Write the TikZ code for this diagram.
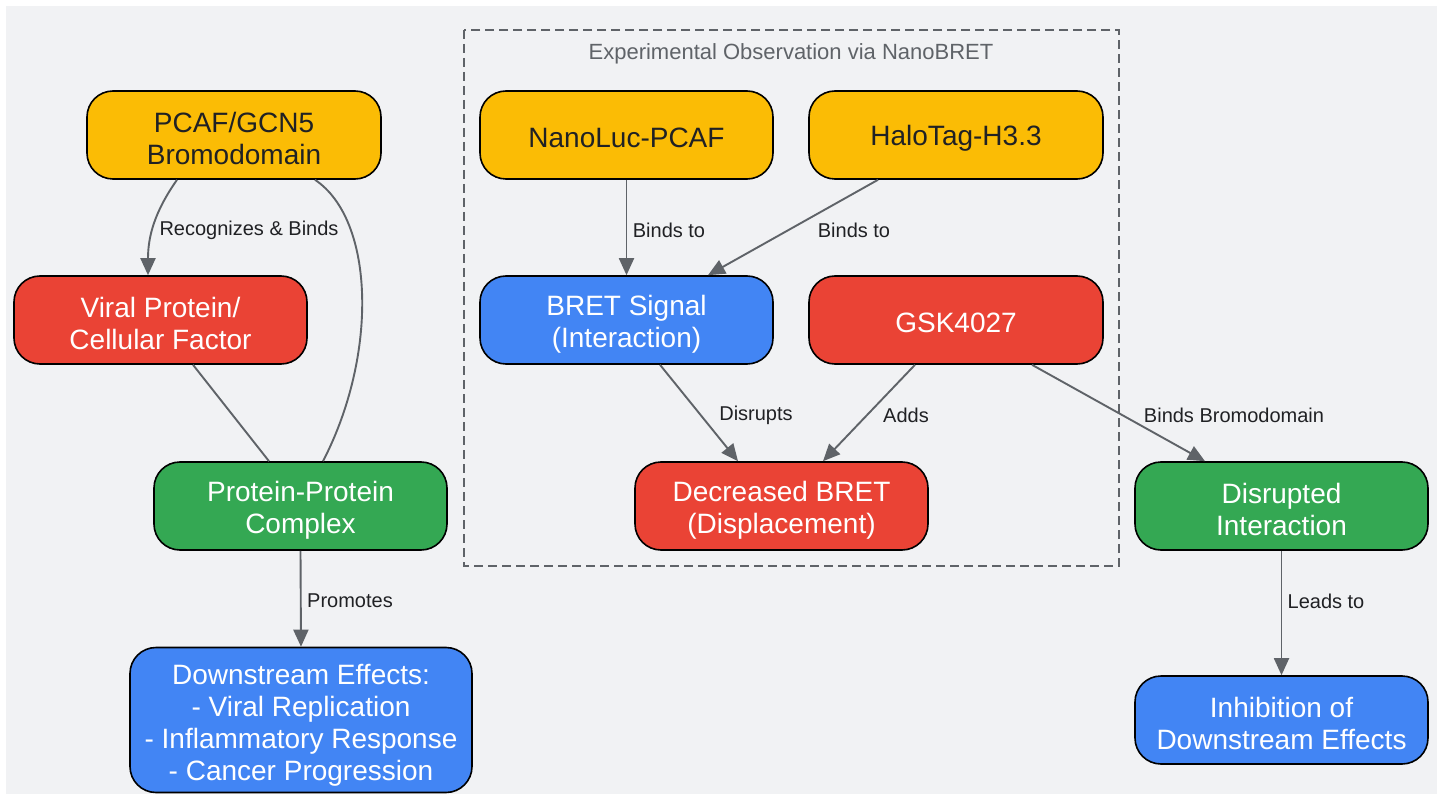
\documentclass[tikz,border=0pt]{standalone}
\usepackage{fontspec}
\setmainfont{Liberation Sans}
\usetikzlibrary{arrows.meta,calc}
\definecolor{bgc}{HTML}{F1F2F4}
\definecolor{gyel}{HTML}{FBBC05}
\definecolor{gred}{HTML}{EA4335}
\definecolor{gblue}{HTML}{4285F4}
\definecolor{ggreen}{HTML}{34A853}
\definecolor{edgec}{HTML}{5F6368}
\definecolor{darktxt}{HTML}{202124}
\newcommand{\mystrutA}{\rule{0pt}{28pt}}
\newcommand{\mystrutB}{\rule{0pt}{31pt}}
\tikzset{
  box/.style={draw=black, line width=1.6pt, rounded corners=26pt, minimum width=293pt, minimum height=88pt, align=center, inner sep=0pt, font=\fontsize{28}{32}\selectfont},
  ybox/.style={box, fill=gyel, text=darktxt},
  rbox/.style={box, fill=gred, text=white},
  bbox/.style={box, fill=gblue, text=white},
  gbox/.style={box, fill=ggreen, text=white},
  conn/.style={draw=edgec, line width=1.9pt},
  arr/.style={conn, -{Triangle[length=17pt,width=15pt]}},
  lbl/.style={text=darktxt, font=\fontsize{20}{24}\selectfont, inner sep=0pt},
}
\begin{document}
\begin{tikzpicture}[x=1pt,y=-1pt]
\useasboundingbox (0,0) rectangle (1443,794);
\fill[white] (0,0) rectangle (1443,794);
\fill[bgc] (6,6) rectangle (1437,794);
% cluster
\draw[edgec, line width=1.5pt, dash pattern=on 9pt off 5pt] (464,30) rectangle (1119,566);
\node[text=edgec, font=\fontsize{22}{26}\selectfont, inner sep=0pt] (title) at (791,54) {Experimental Observation via NanoBRET};
% nodes
\node[ybox, minimum width=294pt] (pcaf) at (234,135) {\mystrutA PCAF/GCN5\\Bromodomain};
\node[rbox] (viral) at (160.5,320) {\mystrutA Viral Protein/\\Cellular Factor};
\node[gbox] (complex) at (300.5,506) {\mystrutA Protein-Protein\\Complex};
\node[bbox, minimum width=342pt, minimum height=145pt] (down) at (301,720) {\mystrutB Downstream Effects:\\- Viral Replication\\- Inflammatory Response\\- Cancer Progression};
\node[ybox] (nl) at (626.5,135) {\rule{0pt}{26pt}NanoLuc-PCAF};
\node[ybox, minimum width=294pt] (halo) at (956,135) {\rule{0pt}{26pt}HaloTag-H3.3};
\node[bbox] (bret) at (626.5,320) {\mystrutA BRET Signal\\(Interaction)};
\node[rbox, minimum width=294pt] (gsk) at (956,320) {\rule{0pt}{26pt}GSK4027};
\node[rbox] (dec) at (781.5,506) {\mystrutA Decreased BRET\\(Displacement)};
\node[gbox] (dis) at (1281.5,506) {\mystrutA Disrupted\\Interaction};
\node[bbox] (inh) at (1281.5,720) {\mystrutA Inhibition of\\Downstream Effects};
% connectors
\draw[arr] ($(pcaf.south)+(-57,0)$) to[out=-125,in=90] ($(viral.north)+(-12.5,0)$);
\draw[conn] ($(pcaf.south)+(81,0)$) .. controls (375,220) and (378,355) .. ($(complex.north)+(22.5,0)$);
\draw[conn] ($(viral.south)+(32.5,0)$) -- ($(complex.north)+(-31.5,0)$);
\draw[arr] (complex.south) -- (down.north);
\draw[arr] (nl.south) -- (bret.north);
\draw[arr] ($(halo.south)+(-78,0)$) -- ($(bret.north)+(81.5,0)$);
\draw[arr] ($(bret.south)+(33.5,0)$) -- ($(dec.north)+(-43.5,0)$);
\draw[arr] ($(gsk.south)+(-41,0)$) -- ($(dec.north)+(41.5,0)$);
\draw[arr] ($(gsk.south)+(76,0)$) -- ($(dis.north)+(-76.5,0)$);
\draw[arr] (dis.south) -- (inh.north);
% labels
\node[lbl] (l1) at (249,230) {Recognizes \& Binds};
\node[lbl] (l2) at (350,601) {Promotes};
\node[lbl] (l3) at (669,230) {Binds to};
\node[lbl] (l4) at (854,230) {Binds to};
\node[lbl] (l5) at (756,415) {Disrupts};
\node[lbl] (l6) at (906,415) {Adds};
\node[lbl] (l7) at (1234,415) {Binds Bromodomain};
\node[lbl] (l8) at (1326,601) {Leads to};
\end{tikzpicture}
\end{document}
